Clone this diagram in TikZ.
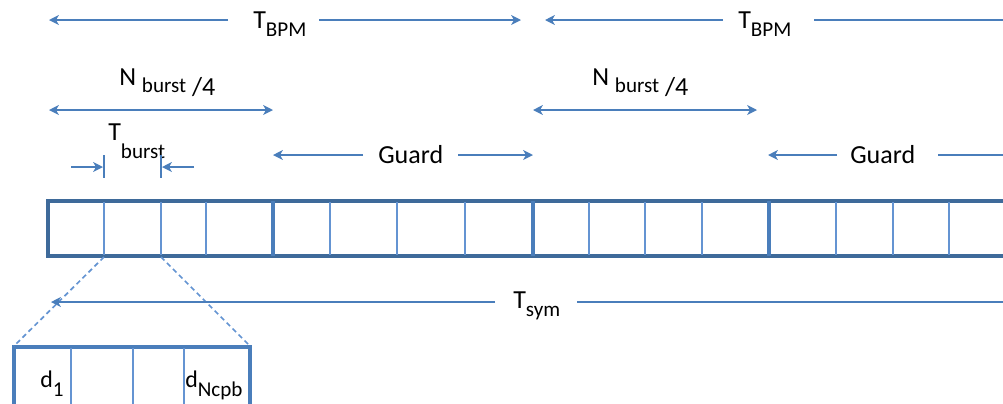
\documentclass[tikz,border=0pt]{standalone}
\usepackage{fontspec}
\setmainfont{Carlito}
\usetikzlibrary{arrows.meta}
\definecolor{frameblue}{RGB}{62,106,154}
\definecolor{arrowblue}{RGB}{74,126,187}
\definecolor{cellblue}{RGB}{100,148,210}
\newcommand{\dimsub}[1]{\raisebox{-5.5pt}{\fontsize{15}{17}\selectfont #1}}

\begin{document}
\begin{tikzpicture}
[x=0.025cm,y=-0.025cm]
\tikzstyle{dimline}=[draw=arrowblue,line width=1pt]
\tikzstyle{tip}=[-{Stealth[length=7pt,width=7pt,inset=2pt]}]
\tikzstyle{lbl}=[anchor=base west,inner sep=0pt,font=\fontsize{18.5}{20}\selectfont]
\tikzstyle{frame}=[draw=frameblue,line width=3.2pt]
\tikzstyle{groupsep}=[draw=arrowblue,line width=2.9pt]
\tikzstyle{cellsep}=[draw=cellblue,line width=1.1pt]
\tikzstyle{subframe}=[draw=arrowblue,line width=2.6pt]
\tikzstyle{zoomline}=[draw=cellblue,line width=1.2pt,dash pattern=on 3.5pt off 2.5pt]

\useasboundingbox (0,0) rectangle (1003,403);

% symbol frame
\draw[frame] (48,201) rectangle (1030,256);
\foreach \x in {104,161,206,330,397,465,589,645,702,836,893,949}
  \draw[cellsep] (\x,202) -- (\x,255);
\foreach \x in {273,533,769}
  \draw[groupsep] (\x,201) -- (\x,256);
\coordinate (burstL) at (104,257);
\coordinate (burstR) at (161,257);

% zoomed burst
\draw[subframe] (14,347) rectangle (250,430);
\foreach \x in {71,133,184}
  \draw[cellsep] (\x,348) -- (\x,410);
\coordinate (subNW) at (14,346);
\coordinate (subNE) at (250,346);
\draw[zoomline] (burstL) -- (subNW);
\draw[zoomline] (burstR) -- (subNE);
\node[lbl,font=\fontsize{17}{19}\selectfont] (dA) at (40,387) {d\raisebox{-6.5pt}{\fontsize{15}{17}\selectfont 1}};
\node[lbl,font=\fontsize{17}{19}\selectfont] (dN) at (185,387) {d\raisebox{-6.5pt}{\fontsize{15}{17}\selectfont Ncpb}};

% T_BPM
\node[lbl] (bpmA) at (253,28.5) {T\dimsub{BPM}};
\node[lbl] (bpmB) at (738,28.5) {T\dimsub{BPM}};
\coordinate (bpmA1) at (49,20);
\coordinate (bpmA2) at (228,20);
\coordinate (bpmA3) at (319,20);
\coordinate (bpmA4) at (521,20);
\coordinate (bpmB1) at (545,20);
\coordinate (bpmB2) at (723,20);
\coordinate (bpmB3) at (814,20);
\coordinate (bpmB4) at (1040,20);
\draw[dimline,tip] (bpmA2) -- (bpmA1);
\draw[dimline,tip] (bpmA3) -- (bpmA4);
\draw[dimline,tip] (bpmB2) -- (bpmB1);
\draw[dimline,tip] (bpmB3) -- (bpmB4);

% N_burst/4
\node[lbl] (nbA) at (119,85) {N \dimsub{burst} \raisebox{-7.8pt}{/4}};
\node[lbl] (nbB) at (592,85) {N \dimsub{burst} \raisebox{-7.8pt}{/4}};
\coordinate (nbA1) at (49,110);
\coordinate (nbA2) at (273,110);
\coordinate (nbB1) at (533,110);
\coordinate (nbB2) at (757,110);
\draw[dimline,{Stealth[length=7pt,width=7pt,inset=2pt]}-{Stealth[length=7pt,width=7pt,inset=2pt]}] (nbA1) -- (nbA2);
\draw[dimline,{Stealth[length=7pt,width=7pt,inset=2pt]}-{Stealth[length=7pt,width=7pt,inset=2pt]}] (nbB1) -- (nbB2);

% Guard
\node[lbl] (guardA) at (378,163) {Guard};
\node[lbl] (guardB) at (850,163) {Guard};
\coordinate (guardA1) at (273,155);
\coordinate (guardA2) at (363,155);
\coordinate (guardA3) at (458,155);
\coordinate (guardA4) at (533,155);
\coordinate (guardB1) at (768,155);
\coordinate (guardB2) at (837,155);
\coordinate (guardB3) at (938,155);
\coordinate (guardB4) at (1013,155);
\draw[dimline,tip] (guardA2) -- (guardA1);
\draw[dimline,tip] (guardA3) -- (guardA4);
\draw[dimline,tip] (guardB2) -- (guardB1);
\draw[dimline,tip] (guardB3) -- (guardB4);

% T_burst
\node[lbl] (tburst) at (108,140) {T\raisebox{-13.5pt}{\fontsize{15}{17}\selectfont burst}};
\coordinate (tbL1) at (71,167);
\coordinate (tbL2) at (103,167);
\coordinate (tbR1) at (194,167);
\coordinate (tbR2) at (162,167);
\draw[dimline] (104,155) -- (104,178);
\draw[dimline] (161,155) -- (161,178);
\draw[dimline,tip] (tbL1) -- (tbL2);
\draw[dimline,tip] (tbR1) -- (tbR2);

% T_sym
\node[lbl] (tsym) at (513,308.5) {T\dimsub{sym}};
\coordinate (tsym1) at (51,302);
\coordinate (tsym2) at (495,302);
\coordinate (tsym3) at (577,302);
\coordinate (tsym4) at (1040,302);
\draw[dimline,tip] (tsym2) -- (tsym1);
\draw[dimline,tip] (tsym3) -- (tsym4);

\end{tikzpicture}
\end{document}
